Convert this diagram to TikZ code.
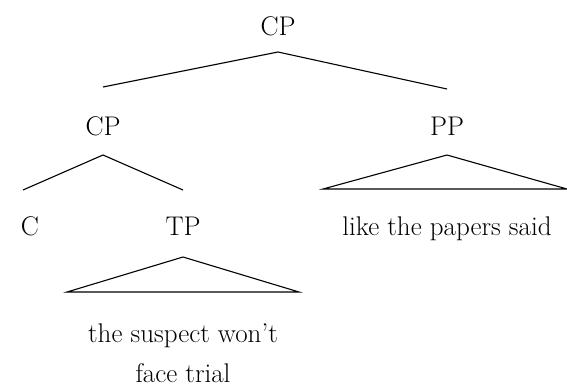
\documentclass[tikz,border=0pt]{standalone}
\usetikzlibrary{calc}
\begin{document}
\begin{tikzpicture}[x=1pt,y=-1pt,
  lbl/.style={anchor=base,inner sep=0pt,font=\fontsize{27}{32}\selectfont},
  edge/.style={line width=1.1pt}]
\useasboundingbox (0,0) rectangle (567,389);
\node[lbl] (cp) at (278,35) {CP};
\node[lbl] (cpl) at (103,135) {CP};
\node[lbl] (pp) at (447,135) {PP};
\node[lbl] (c) at (30,235) {C};
\node[lbl] (tp) at (183,235) {TP};
\node[lbl] (pptext) at (447,235) {like the papers said};
\node[lbl] (tptext1) at (183,342) {the suspect won't};
\node[lbl] (tptext2) at (183,382) {face trial};
% connector end points
\coordinate (cpB) at (278,52);
\coordinate (cplT) at (103,87);
\coordinate (ppT) at (447,89);
\coordinate (cplB) at (103,155);
\coordinate (cT) at (23,190);
\coordinate (tpT) at (183,190);
\coordinate (ppB) at (447,155);
\coordinate (ppL) at (323,189);
\coordinate (ppR) at (567,189);
\coordinate (tpB) at (183,257);
\coordinate (tpL) at (67,292);
\coordinate (tpR) at (299,292);
\draw[edge] (cplT) -- (cpB) -- (ppT);
\draw[edge] (cT) -- (cplB) -- (tpT);
\draw[edge] (ppL) -- (ppB) -- (ppR) -- cycle;
\draw[edge] (tpL) -- (tpB) -- (tpR) -- cycle;
\end{tikzpicture}
\end{document}
